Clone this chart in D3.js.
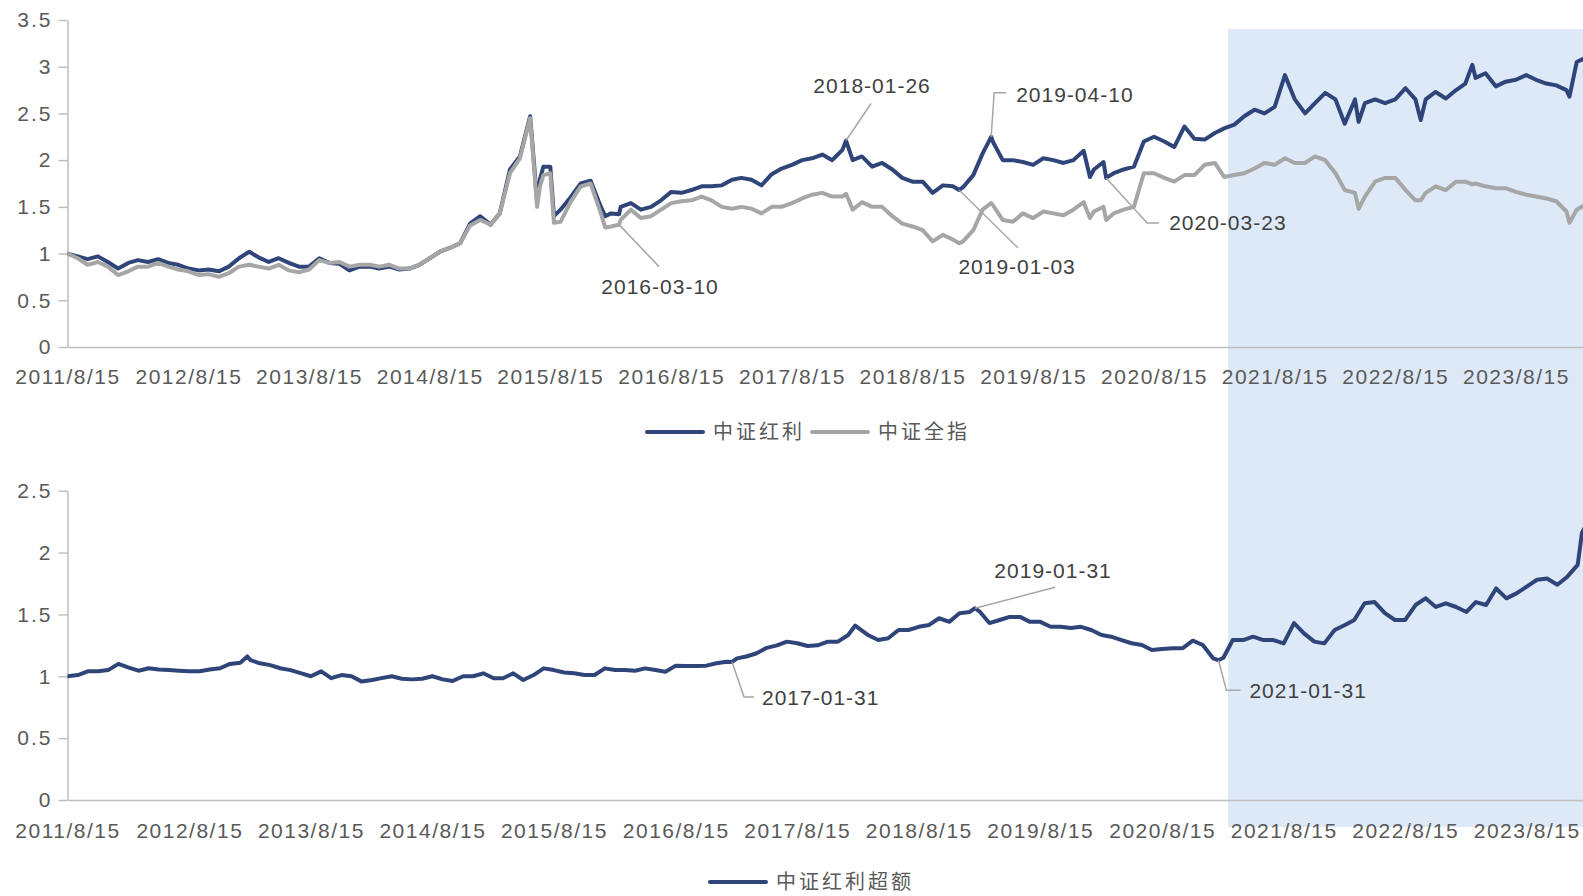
<!DOCTYPE html>
<html>
<head>
<meta charset="utf-8">
<script src="https://cdn.jsdelivr.net/npm/d3@7"></script>
<style>
  body { margin: 0; background: #fff; }
  svg { display: block; }
</style>
</head>
<body>
<svg id="chart" width="1583" height="896"></svg>
<script>
  // ---- data (monthly closes from 2011-08-15, normalised to 1) ----
  var startDate = "2011-08-15";

  var xTickLabels = ["2011/8/15", "2012/8/15", "2013/8/15", "2014/8/15", "2015/8/15", "2016/8/15",
    "2017/8/15", "2018/8/15", "2019/8/15", "2020/8/15", "2021/8/15", "2022/8/15", "2023/8/15"];
  var topYTicks = [0, 0.5, 1, 1.5, 2, 2.5, 3, 3.5];
  var bottomYTicks = [0, 0.5, 1, 1.5, 2, 2.5];

  var topNames = ["中证红利", "中证全指"];
  var bottomName = "中证红利超额";

  var hongli = [
    1.00, 0.97, 0.94, 0.97, 0.91, 0.84, 0.90, 0.93, 0.91, 0.94, 0.90, 0.88,
    0.84, 0.82, 0.83, 0.81, 0.86, 0.95, 1.02, 0.96, 0.91, 0.95, 0.90, 0.86,
    0.86, 0.95, 0.90, 0.89, 0.82, 0.86, 0.86, 0.84, 0.86, 0.83, 0.84, 0.88,
    0.95, 1.02, 1.06, 1.11, 1.32, 1.40, 1.31, 1.43, 1.90, 2.04, 2.47, 1.80,
    1.93, 1.47, 1.60, 1.75, 1.78, 1.50, 1.43, 1.50, 1.54, 1.47, 1.50, 1.57,
    1.66, 1.65, 1.68, 1.72, 1.72, 1.73, 1.79, 1.81, 1.79, 1.73, 1.85, 1.91,
    1.95, 2.00, 2.02, 2.06, 2.00, 2.11, 2.00, 2.04, 1.93, 1.97, 1.90, 1.81,
    1.77, 1.77, 1.65, 1.73, 1.72, 1.71, 1.84, 2.07, 2.20, 2.00, 2.00, 1.98,
    1.95, 2.02, 2.00, 1.97, 2.00, 2.10, 1.90, 1.98, 1.86, 1.90, 1.93, 2.20,
    2.25, 2.20, 2.14, 2.36, 2.23, 2.22, 2.29, 2.34, 2.38, 2.47, 2.54, 2.50,
    2.57, 2.91, 2.65, 2.50, 2.61, 2.72, 2.65, 2.39, 2.65, 2.61, 2.65, 2.61,
    2.65, 2.77, 2.65, 2.65, 2.73, 2.66, 2.75, 2.82, 2.88, 2.93, 2.79, 2.84,
    2.86, 2.91, 2.86, 2.82, 2.80, 2.75, 3.05, 3.10
  ];

  var quanzhi = [
    1.00, 0.95, 0.88, 0.91, 0.86, 0.77, 0.81, 0.86, 0.86, 0.90, 0.86, 0.83,
    0.81, 0.77, 0.78, 0.75, 0.79, 0.86, 0.88, 0.86, 0.84, 0.88, 0.82, 0.80,
    0.83, 0.93, 0.90, 0.91, 0.86, 0.88, 0.88, 0.86, 0.88, 0.84, 0.84, 0.88,
    0.95, 1.02, 1.06, 1.11, 1.30, 1.36, 1.31, 1.43, 1.86, 2.02, 2.45, 1.72,
    1.86, 1.34, 1.55, 1.72, 1.75, 1.43, 1.29, 1.36, 1.47, 1.38, 1.40, 1.47,
    1.54, 1.56, 1.57, 1.61, 1.57, 1.50, 1.48, 1.50, 1.48, 1.43, 1.50, 1.50,
    1.54, 1.59, 1.63, 1.65, 1.61, 1.61, 1.47, 1.55, 1.50, 1.50, 1.40, 1.32,
    1.29, 1.25, 1.13, 1.20, 1.15, 1.13, 1.25, 1.47, 1.52, 1.36, 1.34, 1.43,
    1.38, 1.45, 1.43, 1.41, 1.47, 1.55, 1.45, 1.50, 1.43, 1.47, 1.50, 1.86,
    1.86, 1.81, 1.77, 1.84, 1.84, 1.95, 1.97, 1.82, 1.84, 1.86, 1.91, 1.97,
    1.95, 2.02, 1.97, 1.97, 2.04, 2.00, 1.86, 1.68, 1.65, 1.61, 1.77, 1.81,
    1.81, 1.68, 1.57, 1.65, 1.72, 1.68, 1.77, 1.77, 1.75, 1.72, 1.70, 1.70,
    1.66, 1.63, 1.61, 1.59, 1.56, 1.45, 1.47, 1.53
  ];

  // daily values on the turning points
  var eventDates = ["2015-07-06", "2015-07-25", "2015-08-26", "2016-01-28", "2016-03-10", "2018-01-26",
    "2019-01-03", "2019-04-10", "2020-02-03", "2020-03-23", "2022-04-26", "2022-10-31", "2023-04-05", "2024-01-24"];
  var eventHongli = [1.56, 1.93, 1.40, 1.40, 1.42, 2.21, 1.68, 2.25, 1.82, 1.81, 2.41, 2.43, 3.02, 2.68];
  var eventQuanzhi = [1.50, 1.84, 1.33, 1.28, 1.31, 1.64, 1.11, 1.54, 1.38, 1.36, 1.48, 1.57, 1.74, 1.33];

  var excess = [
    1.00, 1.01, 1.04, 1.04, 1.05, 1.10, 1.07, 1.045, 1.065, 1.055, 1.05, 1.045,
    1.04, 1.04, 1.055, 1.065, 1.10, 1.11, 1.13, 1.105, 1.09, 1.065, 1.05, 1.025,
    1.00, 1.04, 0.985, 1.01, 1.00, 0.957, 0.97, 0.985, 1.00, 0.98, 0.975, 0.98,
    1.00, 0.975, 0.962, 1.00, 1.00, 1.024, 0.984, 0.984, 1.024, 0.97, 1.01, 1.064,
    1.05, 1.03, 1.024, 1.01, 1.01, 1.064, 1.05, 1.05, 1.045, 1.064, 1.05, 1.037,
    1.086, 1.083, 1.083, 1.086, 1.105, 1.118, 1.145, 1.16, 1.186, 1.23, 1.25, 1.28,
    1.267, 1.245, 1.25, 1.28, 1.28, 1.334, 1.39, 1.334, 1.293, 1.307, 1.374, 1.374,
    1.40, 1.415, 1.469, 1.44, 1.51, 1.52, 1.52, 1.43, 1.455, 1.48, 1.48, 1.44,
    1.44, 1.40, 1.40, 1.39, 1.40, 1.374, 1.334, 1.32, 1.293, 1.267, 1.253, 1.213,
    1.22, 1.226, 1.226, 1.288, 1.253, 1.145, 1.15, 1.293, 1.293, 1.32, 1.293, 1.293,
    1.266, 1.43, 1.347, 1.28, 1.266, 1.374, 1.415, 1.455, 1.59, 1.60, 1.51, 1.455,
    1.455, 1.576, 1.63, 1.56, 1.59, 1.56, 1.52, 1.60, 1.576, 1.71, 1.63, 1.67,
    1.725, 1.78, 1.79, 1.74, 1.805, 1.90, 2.25
  ];
  var excessEventDates = ["2013-02-05", "2017-01-31", "2018-02-05", "2019-01-31", "2021-01-31", "2024-01-28"];
  var excessEventValues = [1.16, 1.116, 1.41, 1.55, 1.13, 2.16];

  var shadeFrom = "2021-03-27";

  // ---- layout ----
  var svg = d3.select("#chart");
  var left = 67.5, right = 1583;
  var axisColor = "#BFBFBF", textColor = "#595959";
  var blue = "#2F4479", grey = "#A6A6A6";
  var latin = "'Liberation Sans', Arial, sans-serif";
  var cjk = "'Noto Sans CJK SC', sans-serif";

  var parseDay = d3.timeParse("%Y-%m-%d");
  var parseTick = d3.timeParse("%Y/%m/%d");
  var start = parseDay(startDate);
  var tickDates = xTickLabels.map(function(s) { return parseTick(s); });

  function buildSeries(values, evDates, evValues) {
    var pts = values.map(function(v, i) { return {date: d3.timeMonth.offset(start, i), value: v}; });
    evDates.forEach(function(s, i) { pts.push({date: parseDay(s), value: evValues[i]}); });
    pts.sort(function(a, b) { return a.date - b.date; });
    return pts;
  }

  var topX = d3.scaleTime().domain([start, parseDay("2024-03-05")]).range([left, right]);
  var topY = d3.scaleLinear().domain([0, 3.5]).range([347, 20]);
  var botX = d3.scaleTime().domain([start, parseDay("2024-01-31")]).range([left, right]);
  var botY = d3.scaleLinear().domain([0, 2.5]).range([800, 490.7]);

  // shaded period (behind everything)
  svg.append("rect")
    .attr("x", topX(parseDay(shadeFrom)))
    .attr("y", 29)
    .attr("width", right - topX(parseDay(shadeFrom)))
    .attr("height", 827 - 29)
    .attr("fill", "#DEE9F8");

  function drawAxes(x, y, yTicks, labelOffset) {
    var gy = svg.append("g")
      .attr("transform", "translate(" + left + ",0)")
      .call(d3.axisLeft(y).tickValues(yTicks).tickSize(9).tickSizeOuter(0).tickPadding(6).tickFormat(d3.format("")));
    gy.select(".domain").attr("stroke", axisColor).attr("stroke-width", 1.5);
    gy.selectAll(".tick line").attr("stroke", axisColor).attr("stroke-width", 1.5);
    gy.selectAll(".tick text")
      .attr("fill", textColor)
      .style("font-family", latin)
      .style("font-size", "21px")
      .style("letter-spacing", "2px");

    var gx = svg.append("g")
      .attr("transform", "translate(0," + y(0) + ")")
      .call(d3.axisBottom(x).tickValues(tickDates).tickSize(0).tickSizeOuter(0)
        .tickFormat(function(d, i) { return xTickLabels[i]; }));
    gx.select(".domain").attr("stroke", axisColor).attr("stroke-width", 1.5);
    gx.selectAll(".tick text")
      .attr("y", labelOffset)
      .attr("dy", "0.35em")
      .attr("fill", textColor)
      .style("font-family", latin)
      .style("font-size", "21px")
      .style("letter-spacing", "1.5px");
  }

  drawAxes(topX, topY, topYTicks, 30);
  drawAxes(botX, botY, bottomYTicks, 31);

  svg.append("clipPath").attr("id", "clipTop")
    .append("rect").attr("x", left).attr("y", 0).attr("width", right - left).attr("height", 347);
  svg.append("clipPath").attr("id", "clipBot")
    .append("rect").attr("x", left).attr("y", 460).attr("width", right - left).attr("height", 340);

  var hongliPts = buildSeries(hongli, eventDates, eventHongli);
  var quanzhiPts = buildSeries(quanzhi, eventDates, eventQuanzhi);
  var excessPts = buildSeries(excess, excessEventDates, excessEventValues);

  function drawLine(pts, x, y, color, clip) {
    var line = d3.line()
      .x(function(d) { return x(d.date); })
      .y(function(d) { return y(d.value); });
    svg.append("path")
      .datum(pts)
      .attr("clip-path", "url(#" + clip + ")")
      .attr("fill", "none")
      .attr("stroke", color)
      .attr("stroke-width", 4)
      .attr("stroke-linejoin", "round")
      .attr("stroke-linecap", "round")
      .attr("d", line);
  }

  drawLine(hongliPts, topX, topY, blue, "clipTop");
  drawLine(quanzhiPts, topX, topY, grey, "clipTop");
  drawLine(excessPts, botX, botY, blue, "clipBot");

  // ---- callouts ----
  function valueAt(pts, dateStr) {
    var t = +parseDay(dateStr);
    return pts.find(function(p) { return +p.date === t; }).value;
  }

  var notes = [
    {label: "2018-01-26", pts: hongliPts, x: topX, y: topY, path: [[0, 0], [25, -37]], text: [26, -55], anchor: "middle"},
    {label: "2019-04-10", pts: hongliPts, x: topX, y: topY, path: [[0, 0], [3, -44], [15, -44]], text: [25, -42], anchor: "start"},
    {label: "2019-01-03", pts: hongliPts, x: topX, y: topY, path: [[0, 0], [59, 58]], text: [58, 77], anchor: "middle"},
    {label: "2020-03-23", pts: hongliPts, x: topX, y: topY, path: [[0, 0], [41, 45], [53, 45]], text: [63, 45], anchor: "start"},
    {label: "2016-03-10", pts: quanzhiPts, x: topX, y: topY, path: [[0, 0], [40, 42]], text: [41, 62], anchor: "middle"},
    {label: "2017-01-31", pts: excessPts, x: botX, y: botY, path: [[0, 0], [12, 35], [22, 35]], text: [30, 36], anchor: "start"},
    {label: "2019-01-31", pts: excessPts, x: botX, y: botY, path: [[0, 0], [80, -21]], text: [78, -38], anchor: "middle"},
    {label: "2021-01-31", pts: excessPts, x: botX, y: botY, path: [[0, 0], [8, 30], [22, 30]], text: [31, 30], anchor: "start"}
  ];

  notes.forEach(function(n) {
    var ax = n.x(parseDay(n.label)), ay = n.y(valueAt(n.pts, n.label));
    svg.append("path")
      .attr("d", d3.line()(n.path.map(function(p) { return [ax + p[0], ay + p[1]]; })))
      .attr("fill", "none")
      .attr("stroke", grey)
      .attr("stroke-width", 1.5);
    svg.append("text")
      .attr("x", ax + n.text[0])
      .attr("y", ay + n.text[1])
      .attr("dy", "0.35em")
      .attr("text-anchor", n.anchor)
      .attr("fill", "#404040")
      .style("font-family", latin)
      .style("font-size", "21px")
      .style("letter-spacing", "1px")
      .text(n.label);
  });

  // ---- legends ----
  function legendItem(x, y, color, name) {
    svg.append("line")
      .attr("x1", x).attr("x2", x + 56)
      .attr("y1", y).attr("y2", y)
      .attr("stroke", color)
      .attr("stroke-width", 4)
      .attr("stroke-linecap", "round");
    svg.append("text")
      .attr("x", x + 66)
      .attr("y", y)
      .attr("dy", "0.35em")
      .attr("fill", textColor)
      .style("font-family", cjk)
      .style("font-size", "20px")
      .style("letter-spacing", "3px")
      .text(name);
  }

  legendItem(647, 432, blue, topNames[0]);
  legendItem(812, 432, grey, topNames[1]);
  legendItem(710, 882, blue, bottomName);
</script>
</body>
</html>
